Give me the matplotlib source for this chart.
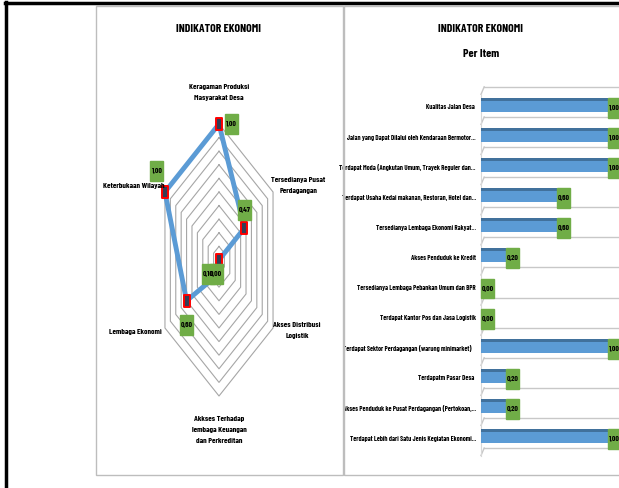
import matplotlib
matplotlib.use("Agg")
import matplotlib.pyplot as plt
import numpy as np
from matplotlib.patches import Rectangle
from matplotlib.lines import Line2D
from matplotlib.markers import MarkerStyle
from matplotlib.path import Path

plt.rcParams['font.family'] = ['Barlow Condensed', 'DejaVu Sans']
plt.rcParams['font.weight'] = 700

# radar data (clockwise from top)
radar_labels = ["Keragaman Produksi\nMasyarakat Desa",
                "Tersedianya Pusat\nPerdagangan",
                "Akses Distribusi\nLogistik",
                "Akkses Terhadap\nlembaga Keuangan\ndan Perkreditan",
                "Lembaga Ekonomi",
                "Keterbukaan Wilayah"]
radar_values = [1.00, 0.47, 0.00, 0.10, 0.60, 1.00]

# bar data (top to bottom)
bar_labels = ["Kualitas Jalan Desa ",
              "Jalan yang Dapat Dilalui oleh Kendaraan Bermotor...",
              "Terdapat Moda (Angkutan Umum, Trayek Reguler dan...",
              "Terdapat Usaha Kedai makanan, Restoran, Hotel dan...",
              "Tersedianya Lembaga Ekonomi Rakyat...",
              "Akses Penduduk ke Kredit",
              "Tersedianya Lembaga Pebankan Umum dan BPR",
              "Terdapat Kantor Pos dan Jasa Logistik",
              "Terdapat Sektor Perdagangan (warung minimarket)   ",
              "Terdapatm Pasar Desa ",
              "Akses Penduduk ke Pusat Perdagangan (Pertokoan,...",
              "Terdapat Lebih dari Satu Jenis Kegiatan Ekonomi..."]
bar_values = [1.00, 1.00, 1.00, 0.60, 0.60, 0.20, 0.00, 0.00, 1.00, 0.20, 0.20, 1.00]

BLUE = '#5B9BD5'
DARKBLUE = '#41719C'
GREEN = '#70AD47'
GRID = '#A6A6A6'

W, H = 619, 488
fig = plt.figure(figsize=(W / 100, H / 100), dpi=100)


def fx(px):
    return px / W


def fy(py):
    return 1 - py / H


def fmt(v):
    return f"{v:.2f}".replace('.', ',')


# outer frame and panel borders
for x0, x1 in [(96, 343), (344, 640)]:
    fig.add_artist(Rectangle((fx(x0), fy(475)), (x1 - x0) / W, (475 - 6) / H,
                             fill=False, ec='#BDBDBD', lw=1))
fig.add_artist(Line2D([fx(5), fx(619)], [fy(3), fy(3)], color='black', lw=2.5))
fig.add_artist(Line2D([fx(6), fx(6)], [fy(2), fy(488)], color='black', lw=2.5))

# ---------------- radar ----------------
ux, uy = 62.4, 136.0   # px per unit (chart is squashed sideways)
cx, cy = 219, 260
ax = fig.add_axes([fx(cx - 2 * ux), fy(cy + 1.5 * uy), 4 * ux / W, 3 * uy / H])
ax.set_xlim(-2, 2)
ax.set_ylim(-1.5, 1.5)
ax.axis('off')

theta = np.radians(90 - 60 * np.arange(6))
ct, st = np.cos(theta), np.sin(theta)
for r in np.arange(1, 11) / 10:
    ax.plot(np.append(r * ct, r * ct[0]), np.append(r * st, r * st[0]),
            color=GRID, lw=0.8, zorder=1)

vals = np.array(radar_values)
xs, ys = vals * ct, vals * st
ax.plot(np.append(xs, xs[0]), np.append(ys, ys[0]), color=BLUE, lw=3.5, zorder=3)
rect_marker = MarkerStyle(Path([(-0.55, -1), (0.55, -1), (0.55, 1), (-0.55, 1), (-0.55, -1)], closed=True))
ax.plot(xs, ys, ls='none', marker=rect_marker, ms=8, mfc='#353D55', mec='red', mew=1.4, zorder=4)

label_pos = [(0, 1.23, 'center'), (1.27, 0.55, 'center'), (1.25, -0.515, 'center'),
             (0, -1.25, 'center'), (-0.91, -0.53, 'right'), (-0.87, 0.545, 'right')]
for lab, (lx, ly, ha) in zip(radar_labels, label_pos):
    ax.text(lx, ly, lab, ha=ha, va='center', fontsize=5.8, linespacing=2.0, zorder=5)

# value boxes: pixel offsets from each point
box_off = [(12, 0), (0, -18), (-3, 14), (-11, 0), (0, 24), (-8, -21)]
bw, bh = 13 / ux, 20 / uy
for x, y, v, (dx, dy) in zip(xs, ys, radar_values, box_off):
    bx, by = x + dx / ux, y - dy / uy
    ax.add_patch(Rectangle((bx - bw / 2, by - bh / 2), bw, bh, color=GREEN, zorder=6))
    ax.text(bx, by, fmt(v), ha='center', va='center', fontsize=5.5, zorder=7)

ax.text(0, (cy - 29) / uy, "INDIKATOR EKONOMI", ha='center', va='center', fontsize=8.5)

# ---------------- bars ----------------
pxu, pyu = 127.0, 30.1
x0px, y0px = 481, 107
xl = (-0.03, (622 - x0px) / pxu)
yl = (11.8, -0.8)
bx_ = fig.add_axes([fx(x0px + xl[0] * pxu), fy(y0px + yl[0] * pyu),
                    (xl[1] - xl[0]) * pxu / W, (yl[0] - yl[1]) * pyu / H])
bx_.set_xlim(*xl)
bx_.set_ylim(*yl)
for s in bx_.spines.values():
    s.set_visible(False)
bx_.set_xticks([])
ypos = np.arange(len(bar_values))
bx_.set_yticks(ypos)
bx_.set_yticklabels(bar_labels, fontsize=4.9)
bx_.tick_params(axis='y', length=0, pad=1)

# floor lines with 3D slant
for k in range(len(bar_values) + 1):
    yline = k - 0.67
    bx_.plot([0.025, xl[1]], [yline, yline], color='#C8C8C8', lw=1, zorder=1, clip_on=False)
    bx_.plot([0.025, 0.0], [yline, yline + 0.25], color='#C8C8C8', lw=1, zorder=1)
bx_.plot([0, 0], [-0.42, 11.58], color='#D8D8D8', lw=0.8, zorder=1)

bh2 = 0.47
bx_.barh(ypos - 0.07, bar_values, height=bh2, color=BLUE, zorder=2)
bx_.barh(ypos - 0.07 - bh2 / 2 + 0.05, bar_values, height=0.1, color=DARKBLUE, zorder=3)
for y, v in zip(ypos, bar_values):
    bx_.add_patch(Rectangle((v, y + 0.03 - 0.33), 13 / pxu, 0.66, color=GREEN, zorder=4, clip_on=False))
    bx_.text(v + 6.5 / pxu, y + 0.03, fmt(v), ha='center', va='center', fontsize=5.5, zorder=5, clip_on=False)

fig.text(fx(481), fy(29), "INDIKATOR EKONOMI", ha='center', va='center', fontsize=8.5)
fig.text(fx(481), fy(54), "Per Item", ha='center', va='center', fontsize=8.5)

fig.savefig("out.png", dpi=100)
